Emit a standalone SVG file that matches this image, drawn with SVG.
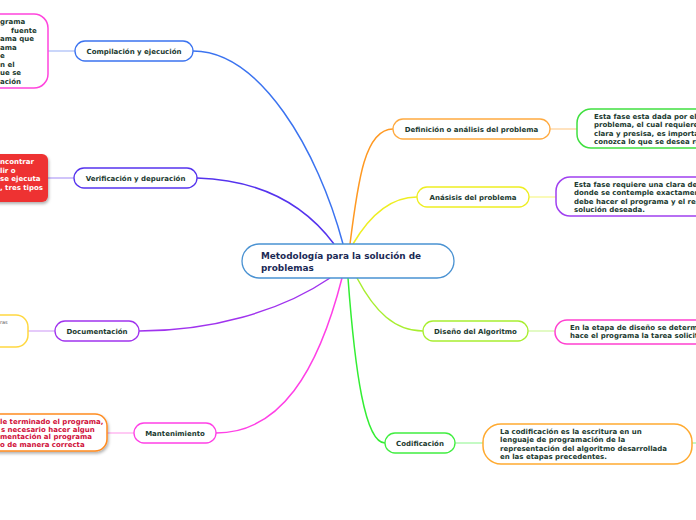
<svg xmlns="http://www.w3.org/2000/svg" width="696" height="520" viewBox="0 0 696 520">
<defs>
<filter id="sh" x="-20%" y="-20%" width="140%" height="150%">
<feDropShadow dx="1" dy="2" stdDeviation="1.5" flood-color="#000" flood-opacity="0.3"/>
</filter>
<style>
.n{fill:#fff;stroke-width:1.3}
.b{fill:#fff;stroke-width:1.5}
.t{font-family:"DejaVu Sans",Verdana,sans-serif;font-weight:bold;font-size:7px;fill:#1b3a30}
.c{text-anchor:middle}
.main{fill:none;stroke-width:1.5}
.leaf{fill:none;stroke-width:1.5}
</style>
</defs>
<rect width="696" height="520" fill="#fff"/>
<g id="connectors">
<path class="main" d="M193,51 C260,51 318,150 343,244" stroke="#3b73f0"/>
<path class="main" d="M197,178 C260,180 305,205 334,244" stroke="#5533ee"/>
<path class="main" d="M330,278 C280,312 210,331 139,331" stroke="#a033ee"/>
<path class="main" d="M342,278 C318,372 280,433 216,433" stroke="#ff40e6"/>
<path class="main" d="M350,244 C358,180 365,129 393,129" stroke="#ff9922"/>
<path class="main" d="M353,244 C370,215 390,197 417,197" stroke="#eeee22"/>
<path class="main" d="M357,278 C375,312 395,331 423,331" stroke="#a8ee30"/>
<path class="main" d="M348,278 C355,372 365,443 385,443" stroke="#33ee33"/>
<path class="leaf" d="M48,51 H75" stroke="#b8c8f8"/>
<path class="leaf" d="M48,178 H74" stroke="#c0b0f8"/>
<path class="leaf" d="M28,331 H55" stroke="#dcb8f8"/>
<path class="leaf" d="M107,433 H134" stroke="#ffb8f0"/>
<path class="leaf" d="M550,129 H577" stroke="#ffd8a8"/>
<path class="leaf" d="M529,197 H556" stroke="#f8f8a0"/>
<path class="leaf" d="M528,331 H555" stroke="#d8f8b0"/>
<path class="leaf" d="M455,443 H483" stroke="#b0f8b0"/>
<path class="leaf" d="M692,443 H696" stroke="#b0f8b0"/>
</g>
<g id="center">
<rect class="n" x="242" y="244" width="212" height="34" rx="17" stroke="#4a92d2"/>
<text class="t" x="261" y="259" style="font-size:8.9px;fill:#1b2a55">Metodología para la solución de</text>
<text class="t" x="261" y="270.5" style="font-size:8.9px;fill:#1b2a55">problemas</text>
</g>
<g id="compilacion">
<rect class="n" x="75" y="41" width="118" height="20" rx="10" stroke="#3b73f0"/>
<text class="t c" x="134" y="53.5">Compilación y ejecución</text>
</g>
<g id="compilacion-desc">
<rect class="b" x="-30" y="14" width="78" height="74" rx="14" stroke="#ff44dd"/>
<text class="t" x="0" y="24">grama</text>
<text class="t" x="11" y="32.5">fuente</text>
<text class="t" x="0" y="41">ama que</text>
<text class="t" x="0" y="49.5">ama</text>
<text class="t" x="0" y="58">e</text>
<text class="t" x="0" y="66.5">n el</text>
<text class="t" x="0" y="75">ue se</text>
<text class="t" x="0" y="83.5">ación</text>
</g>
<g id="verificacion">
<rect class="n" x="74" y="168" width="123" height="20" rx="10" stroke="#5533ee"/>
<text class="t c" x="135.5" y="180.5">Verificación y depuración</text>
</g>
<g id="verificacion-desc">
<rect x="-20" y="154" width="68" height="48" rx="6" fill="#ee3030" filter="url(#sh)"/>
<text class="t" x="0" y="164" style="fill:#fff">ncontrar</text>
<text class="t" x="0" y="172.5" style="fill:#fff">lir o</text>
<text class="t" x="0" y="181" style="fill:#fff">se ejecuta</text>
<text class="t" x="0" y="189.5" style="fill:#fff">, tres tipos</text>
</g>
<g id="documentacion">
<rect class="n" x="55" y="321" width="84" height="20" rx="10" stroke="#a033ee"/>
<text class="t c" x="97" y="333.5">Documentación</text>
</g>
<g id="documentacion-desc">
<rect class="b" x="-20" y="315" width="48" height="32" rx="12" stroke="#ffd840"/>
<text x="0" y="324" style="font-family:'DejaVu Sans',sans-serif;font-size:5px;fill:#555">ras</text>
</g>
<g id="mantenimiento">
<rect class="n" x="134" y="423" width="82" height="20" rx="10" stroke="#ff40e6"/>
<text class="t c" x="175" y="435.5">Mantenimiento</text>
</g>
<g id="mantenimiento-desc">
<rect class="b" x="-20" y="414" width="127" height="37" rx="12" stroke="#ff8c20" filter="url(#sh)"/>
<text class="t" x="0" y="424" style="fill:#d0103a">le terminado el programa,</text>
<text class="t" x="1" y="431.5" style="fill:#d0103a">s necesario hacer algun</text>
<text class="t" x="0" y="439" style="fill:#d0103a">mentación al programa</text>
<text class="t" x="0" y="446.5" style="fill:#d0103a">o de manera correcta</text>
</g>
<g id="definicion">
<rect class="n" x="393" y="119" width="157" height="20" rx="10" stroke="#ffaa40"/>
<text class="t c" x="471.5" y="131.5">Definición o análisis del problema</text>
</g>
<g id="definicion-desc">
<rect class="b" x="577" y="109" width="140" height="39" rx="14" stroke="#40e040"/>
<text class="t" x="594" y="118.5">Esta fase esta dada por el</text>
<text class="t" x="594" y="127">problema, el cual requiere</text>
<text class="t" x="594" y="135.5">clara y presisa, es importa</text>
<text class="t" x="594" y="144">conozca lo que se desea re</text>
</g>
<g id="analisis">
<rect class="n" x="417" y="187" width="112" height="20" rx="10" stroke="#eeee22"/>
<text class="t c" x="473" y="199.5">Anásisis del problema</text>
</g>
<g id="analisis-desc">
<rect class="b" x="556" y="177" width="160" height="39" rx="14" stroke="#a040f0"/>
<text class="t" x="574" y="186.5">Esta fase requiere una clara de</text>
<text class="t" x="574" y="195">donde se contemple exactamen</text>
<text class="t" x="574" y="203.5">debe hacer el programa y el res</text>
<text class="t" x="574" y="212">solución deseada.</text>
</g>
<g id="diseno">
<rect class="n" x="423" y="321" width="105" height="20" rx="10" stroke="#a8ee30"/>
<text class="t c" x="475.5" y="333.5">Diseño del Algoritmo</text>
</g>
<g id="diseno-desc">
<rect class="b" x="555" y="320" width="160" height="24" rx="12" stroke="#ff40d0"/>
<text class="t" x="570" y="329.5">En la etapa de diseño se determi</text>
<text class="t" x="570" y="338">hace el programa la tarea solicit</text>
</g>
<g id="codificacion">
<rect class="n" x="385" y="433" width="70" height="20" rx="10" stroke="#40ee40"/>
<text class="t c" x="420" y="445.5">Codificación</text>
</g>
<g id="codificacion-desc">
<rect class="b" x="483" y="424" width="209" height="40" rx="18" stroke="#ffaa30"/>
<text class="t" x="500" y="433.5">La codificación es la escritura en un</text>
<text class="t" x="500" y="442">lenguaje de programación de la</text>
<text class="t" x="500" y="450.5">representación del algoritmo desarrollada</text>
<text class="t" x="500" y="459">en las etapas precedentes.</text>
</g>
</svg>
